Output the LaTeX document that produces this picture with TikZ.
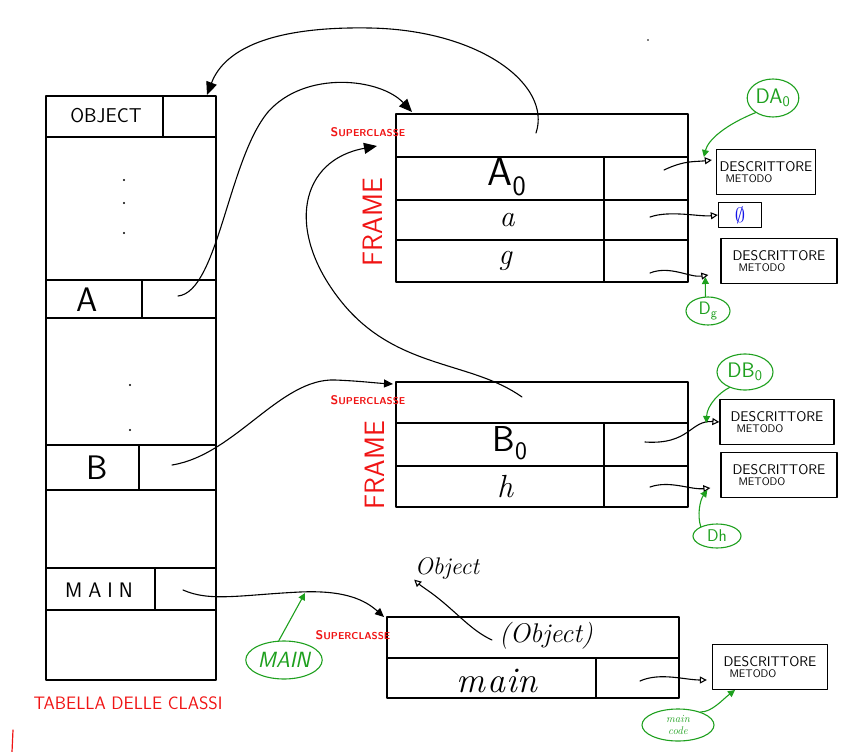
\documentclass[tikz,border=0pt]{standalone}
\usetikzlibrary{arrows.meta,shapes.geometric}
\definecolor{penred}{RGB}{240,20,20}
\definecolor{pengreen}{RGB}{30,160,30}
\definecolor{penblue}{RGB}{20,20,230}
\newcommand{\fs}[1]{\fontsize{#1}{#1}\selectfont}
\begin{document}
\begin{tikzpicture}[x=1pt,y=-1pt,line width=1.4pt,line join=round,line cap=round,
  lbl/.style={font=\sffamily,inner sep=0pt},
  hand/.style={font=\itshape,inner sep=0pt},
  redtxt/.style={text=penred,font=\sffamily,inner sep=0pt},
  desc/.style={draw,line width=1.3pt,minimum width=#1,minimum height=45pt,align=left,inner sep=2pt,font=\sffamily},
  fatarr/.style={-{Triangle[length=13pt,width=11pt]},line width=1.1pt},
  midarr/.style={-{Triangle[length=9pt,width=8pt]},line width=1.1pt},
  smallarr/.style={-{Triangle[open,length=7pt,width=7pt]},line width=1.1pt},
  gell/.style={ellipse,draw=pengreen,line width=1.1pt,text=pengreen,inner sep=1pt},
  garr/.style={draw=pengreen,-{Triangle[length=7pt,width=7pt]},line width=1.1pt}
]
\useasboundingbox (0,0) rectangle (846,752);

% ---------- Tabella delle classi ----------
\draw (46,96) rectangle (216,680);
\foreach \yy in {137,280,318,445,490,568,610} \draw (46,\yy) -- (216,\yy);
\draw (163,96) -- (163,137);
\draw (142,280) -- (142,318);
\draw (139,445) -- (139,490);
\draw (155,568) -- (155,610);
\foreach \yy in {180,203,233} \fill (124,\yy) circle (1.2pt);
\foreach \yy in {385,430} \fill (130,\yy) circle (1.2pt);
\node[lbl,font=\sffamily\fs{20}] (objt) at (106,116) {OBJECT};
\node[lbl,font=\sffamily\fs{34}] (atxt) at (87,300) {A};
\node[lbl,font=\sffamily\fs{34}] (btxt) at (97,468) {B};
\node[lbl,font=\sffamily\fs{21}] (mtxt) at (99,590) {M\kern6pt A\kern6pt I\kern6pt N};
\node[redtxt,font=\sffamily\fs{18}] (tab) at (128,703) {TABELLA DELLE CLASSI};
\draw[penred,line width=1.2pt] (13,730) -- (12,752);
\coordinate (objslot) at (207,95);
\coordinate (aslot) at (178,296);
\coordinate (bslot) at (172,465);
\coordinate (mslot) at (183,590);

% ---------- Frame A ----------
\draw (396,114) rectangle (688,282);
\foreach \yy in {157,200,240} \draw (396,\yy) -- (688,\yy);
\draw (604,157) -- (604,282);
\node[lbl,font=\sffamily\fs{40}] (a0) at (507,177) {A\textsubscript{0}};
\node[hand,font=\itshape\fs{30}] (av) at (507,220) {a};
\node[hand,font=\itshape\fs{30}] (gv) at (505,261) {g};
\node[redtxt,rotate=90,font=\sffamily\fs{28}] (frA) at (373,222) {FRAME};
\node[redtxt,font=\sffamily\bfseries] (supA) at (368,132) {{\fs{12.5}S}{\fs{10}UPERCLASSE}};
\coordinate (fatop) at (536,133);
\coordinate (fatl) at (412,112);
\coordinate (supAtip) at (377,146);
\coordinate (a0r) at (664,170);
\coordinate (avr) at (650,217);
\coordinate (gvr) at (650,273);

% ---------- Frame B ----------
\draw (396,382) rectangle (688,507);
\foreach \yy in {423,466} \draw (396,\yy) -- (688,\yy);
\draw (604,423) -- (604,507);
\node[lbl,font=\sffamily\fs{36}] (b0) at (510,443) {B\textsubscript{0}};
\node[hand,font=\itshape\fs{32}] (hv) at (505,487) {h};
\node[redtxt,rotate=90,font=\sffamily\fs{28}] (frB) at (375,465) {FRAME};
\node[redtxt,font=\sffamily\bfseries] (supB) at (368,400) {{\fs{12.5}S}{\fs{10}UPERCLASSE}};
\coordinate (fbtop) at (522,397);
\coordinate (fbtl) at (393,384);
\coordinate (b0r) at (645,442);
\coordinate (hvr) at (650,487);

% ---------- Frame MAIN ----------
\draw (387,617) rectangle (679,698);
\draw (387,658) -- (679,658);
\draw (596,658) -- (596,698);
\node[hand,font=\itshape\fs{27}] (objp) at (546,636) {(Object)};
\node[hand,font=\itshape\fs{36}] (mainv) at (497,681) {m\kern2pt a\kern1pt i\kern1pt n};
\node[hand,font=\itshape\fs{24}] (objsup) at (447,568) {Object};
\node[redtxt,font=\sffamily\bfseries] (supM) at (353,635) {{\fs{12.5}S}{\fs{10}UPERCLASSE}};
\coordinate (fmtl) at (384,617);
\coordinate (objpl) at (492,640);
\coordinate (mainr) at (640,681);

% ---------- Descriptors ----------
\node[desc=99pt] (d1) at (766,172) {{\fs{14}DESCRITTORE}\\[-1pt]\hspace*{6pt}{\fs{11}METODO}};
\node[draw,line width=1.3pt,minimum width=43pt,minimum height=25pt,inner sep=0pt] (nil) at (740,215) {\color{penblue}\fs{22}$\emptyset$};
\node[desc=116pt] (d2) at (779,261) {{\fs{14}DESCRITTORE}\\[-1pt]\hspace*{6pt}{\fs{11}METODO}};
\node[desc=114pt] (d3) at (777,422) {{\fs{14}DESCRITTORE}\\[-1pt]\hspace*{6pt}{\fs{11}METODO}};
\node[desc=116pt] (d4) at (779,475) {{\fs{14}DESCRITTORE}\\[-1pt]\hspace*{6pt}{\fs{11}METODO}};
\node[desc=115pt] (d5) at (770,667) {{\fs{14}DESCRITTORE}\\[-1pt]\hspace*{6pt}{\fs{11}METODO}};

% ---------- Green notes ----------
\node[gell,minimum width=48pt,minimum height=38pt,font=\sffamily\fs{21}] (gDA) at (773,98) {DA\textsubscript{0}};
\node[gell,minimum width=44pt,minimum height=28pt,font=\sffamily\fs{18}] (gDg) at (708,311) {D\textsubscript{g}};
\node[gell,minimum width=56pt,minimum height=36pt,font=\sffamily\fs{21}] (gDB) at (745,372) {DB\textsubscript{0}};
\node[gell,minimum width=48pt,minimum height=24pt,font=\sffamily\fs{17}] (gDh) at (717,536) {Dh};
\node[gell,minimum width=72pt,minimum height=38pt,font=\sffamily\itshape\fs{22}] (gMAIN) at (284,660) {MAIN};
\node[gell,minimum width=72pt,minimum height=32pt,font=\itshape\fs{11},align=center] (gmc) at (678,725) {main\\[1pt]code};

% ---------- Black connectors ----------
\draw[fatarr] (fatop) .. controls (552,85) and (480,30) .. (370,28)
  .. controls (260,26) and (222,55) .. (objslot);
\draw[fatarr] (aslot) .. controls (218,292) and (228,160) .. (268,112)
  .. controls (305,70) and (380,78) .. (fatl);
\draw[fatarr] (fbtop) .. controls (470,360) and (395,370) .. (340,300)
  .. controls (285,230) and (300,160) .. (supAtip);
\draw[midarr] (bslot) .. controls (235,455) and (280,378) .. (335,380)
  .. controls (360,381) and (375,383) .. (fbtl);
\draw[midarr] (mslot) .. controls (210,602) and (240,595) .. (300,592)
  .. controls (345,590) and (365,600) .. (fmtl);
\draw[smallarr] (objpl) .. controls (470,630) and (455,610) .. (430,592)
  .. controls (420,585) .. (objsup.south west);
\draw[smallarr] (a0r) .. controls (685,160) and (695,162) .. ([xshift=-4pt,yshift=12pt]d1.west);
\draw[smallarr] (avr) .. controls (670,210) and (700,217) .. (nil.west);
\draw[smallarr] (gvr) .. controls (670,265) and (690,278) .. ([xshift=-12pt,yshift=-14pt]d2.west);
\draw[smallarr] (b0r) .. controls (690,445) and (690,420) .. (d3.west);
\draw[smallarr] (hvr) .. controls (670,480) and (690,490) .. ([xshift=-10pt,yshift=-13pt]d4.west);
\draw[smallarr] (mainr) .. controls (660,672) and (685,680) .. ([xshift=-5pt,yshift=-13pt]d5.west);
\fill (648,40) circle (0.8pt);

% ---------- Green connectors ----------
\draw[garr] (gDA.220) .. controls (725,125) and (708,140) .. ([xshift=-12pt,yshift=15pt]d1.west);
\draw[garr] (gDg.100) -- ([xshift=-15pt,yshift=-16pt]d2.west);
\draw[garr] (gDB.225) .. controls (720,392) and (707,405) .. ([xshift=-13pt,yshift=-1pt]d3.west);
\draw[garr] (gDh.150) .. controls (697,515) and (700,500) .. ([xshift=-13pt,yshift=-15pt]d4.west);
\draw[garr] (gMAIN.105) -- (305,593);
\draw[garr] (gmc.30) .. controls (712,712) and (722,700) .. ([xshift=-35pt,yshift=-23pt]d5.center);
\end{tikzpicture}
\end{document}
